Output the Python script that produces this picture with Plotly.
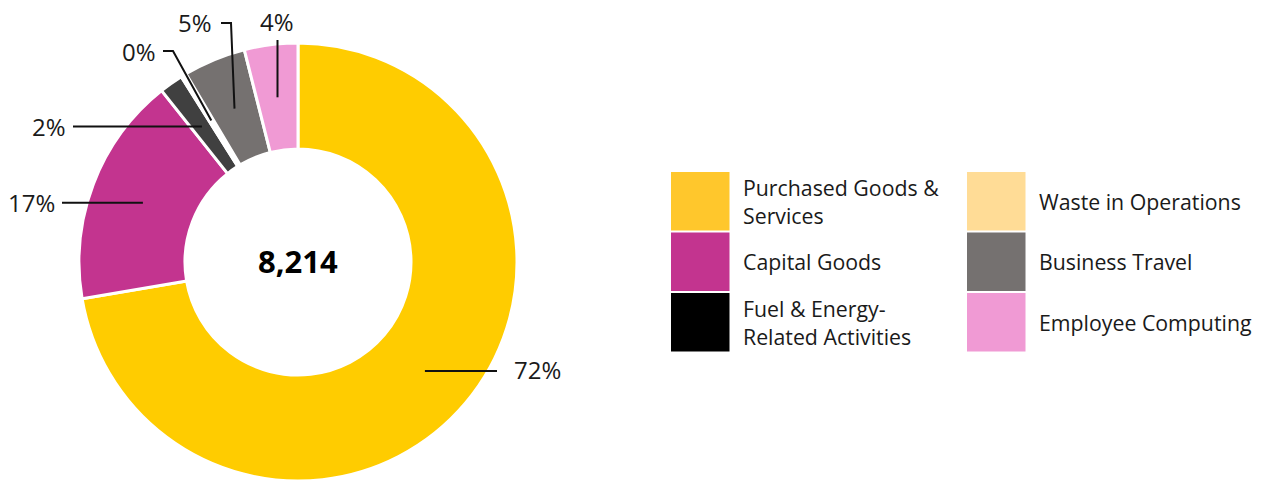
import math
import plotly.graph_objects as go

W, H = 1262, 481

# ---- data ----
categories = ["Purchased Goods & Services", "Capital Goods", "Fuel & Energy-Related Activities",
              "Waste in Operations", "Business Travel", "Employee Computing"]
legend_labels = ["Purchased Goods &<br>Services", "Capital Goods", "Fuel & Energy-<br>Related Activities",
                 "Waste in Operations", "Business Travel", "Employee Computing"]
values = [5940, 1395, 144, 33, 378, 324]
total_label = "8,214"

slice_colors = ["#FFCC00", "#C3348F", "#404040", "#FFFFFF", "#757170", "#F09AD4"]
legend_colors = ["#FFC72C", "#C3348F", "#000000", "#FFDC96", "#757170", "#F09AD4"]

# ---- geometry (pixels) ----
cx, cy, R = 298, 262, 219
hole = 0.516
r_mid = R * (1 + hole) / 2

fig = go.Figure()
fig.add_trace(go.Pie(
    labels=categories, values=values, hole=hole, sort=False, direction="clockwise",
    rotation=0, textinfo="none", hoverinfo="label+value+percent",
    marker=dict(colors=slice_colors, line=dict(color="white", width=3)),
    domain=dict(x=[(cx - R) / W, (cx + R) / W], y=[(H - cy - R) / H, (H - cy + R) / H]),
    showlegend=False,
))

# overlay pixel axes for labels / leader lines
fig.add_trace(go.Scatter(x=[0], y=[0], mode="markers", marker=dict(opacity=0), hoverinfo="skip", showlegend=False))

tot = sum(values)
cum = 0
mids = []
for v in values:
    a = (cum + v / 2) / tot * 2 * math.pi
    mids.append((cx + r_mid * math.sin(a), cy - r_mid * math.cos(a)))
    cum += v
pcts = [f"{round(v / tot * 100)}%" for v in values]

# label layout: waypoints after start, label pos, anchor
layouts = [
    (lambda s: [(497, s[1] + 2)], lambda s: (512, s[1]), "left"),
    (lambda s: [(62, s[1])], lambda s: (57, s[1]), "right"),
    (lambda s: [(73, s[1])], lambda s: (68, s[1]), "right"),
    (lambda s: [(173, 51), (163, 51)], lambda s: (158, 51), "right"),
    (lambda s: [(231, 23), (221, 23)], lambda s: (214, 22), "right"),
    (lambda s: [(s[0], 40)], lambda s: (s[0], 21), "center"),
]
shapes = []
annotations = []
for i, (wp, lp, anc) in enumerate(layouts):
    s = mids[i]
    pts = [s] + wp(s)
    if i == 0:
        pts = [(s[0], s[1] + 2)] + wp(s)
    path = "M " + " L ".join(f"{x:.1f},{y:.1f}" for x, y in pts)
    shapes.append(dict(type="path", path=path, xref="x", yref="y",
                       line=dict(color="#111111", width=2), layer="above"))
    lx, ly = lp(s)
    annotations.append(dict(x=lx, y=ly, xref="x", yref="y", text=pcts[i], showarrow=False,
                            xanchor=anc, yanchor="middle",
                            font=dict(family="Open Sans", size=24, color="#1a1a1a")))

annotations.append(dict(x=cx, y=261, xref="x", yref="y", text=f"<b>{total_label}</b>", showarrow=False,
                        xanchor="center", yanchor="middle",
                        font=dict(family="Open Sans", size=31, color="#000000")))

# custom legend: 2 columns x 3 rows
col_x = [671, 967]
text_dx = 70
row_y0, row_pitch, sq = 172, 60.5, 58.5
for i, lab in enumerate(legend_labels):
    c, r = divmod(i, 3)
    x0 = col_x[c]
    y0 = row_y0 + r * row_pitch
    shapes.append(dict(type="rect", xref="x", yref="y", x0=x0, x1=x0 + sq, y0=y0, y1=y0 + sq,
                       fillcolor=legend_colors[i], line=dict(width=0), layer="above"))
    annotations.append(dict(x=x0 + text_dx, y=y0 + sq / 2, xref="x", yref="y", text=lab, showarrow=False,
                            xanchor="left", yanchor="middle", align="left",
                            font=dict(family="Open Sans", size=21.3, color="#1a1a1a")))

fig.update_layout(
    width=W, height=H, margin=dict(l=0, r=0, t=0, b=0),
    paper_bgcolor="white", plot_bgcolor="rgba(0,0,0,0)",
    xaxis=dict(range=[0, W], visible=False, fixedrange=True),
    yaxis=dict(range=[H, 0], visible=False, fixedrange=True),
    shapes=shapes, annotations=annotations,
)
fig.write_html("out.html")
